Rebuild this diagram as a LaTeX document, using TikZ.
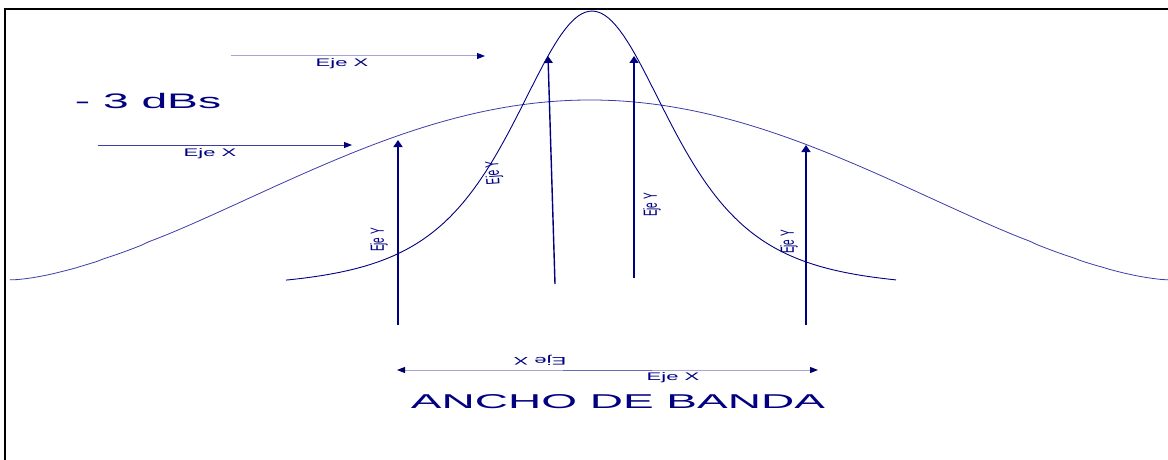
\documentclass[tikz,border=0pt]{standalone}
\usepackage{fontspec}
\setmainfont{Liberation Sans}
\usetikzlibrary{arrows.meta,positioning}
\definecolor{marino}{RGB}{0,0,128}
\definecolor{anchoazul}{RGB}{60,60,170}
\definecolor{lila}{RGB}{165,165,218}

% texto estirado en vertical (eje Y girado)
\newcommand{\ejeytexto}{\scalebox{1}[1.9]{Eje Y}}

\tikzset{
  curvaancha/.style={draw=anchoazul, line width=0.8pt},
  curvaestrecha/.style={draw=marino, line width=0.9pt},
  ejey/.style={draw=marino, line width=1.4pt, -{Triangle[length=7pt,width=9pt]}},
  ejex/.style={draw=#1, line width=1pt, -{Triangle[color=marino,length=8pt,width=6pt]}},
  etiq/.style={text=marino, inner sep=0pt, font=\fontsize{11}{13}\selectfont, xscale=2},
  etiqy/.style={text=marino, inner sep=0pt, font=\fontsize{10}{12}\selectfont, rotate=#1}
}

\begin{document}
\begin{tikzpicture}[x=1pt,y=-1pt]
  \useasboundingbox (0,0) rectangle (1168,460);
  % marco
  \draw[line width=2pt] (5,470) -- (5,9) -- (1180,9);

  % curvas
  \draw[curvaancha] plot[domain=10:1168,samples=160]
    (\x,{280-180*pow(max(0.0001,(1+cos(0.310345*(\x-590)))/2),0.78)});
  \draw[curvaestrecha] plot[domain=286:896,samples=160]
    (\x,{280-269*(1/(1+((\x-592)/145)^2)^2-0.034)/0.966});

  % ejes Y
  \coordinate (y1a) at (398,325);  \coordinate (y1b) at (398,140);
  \coordinate (y2a) at (555,284);  \coordinate (y2b) at (548,56);
  \coordinate (y3a) at (634,278);  \coordinate (y3b) at (634,56);
  \coordinate (y4a) at (806,325);  \coordinate (y4b) at (806,145);
  \draw[ejey] (y1a) -- (y1b);
  \draw[ejey] (y2a) -- (y2b);
  \draw[ejey] (y3a) -- (y3b);
  \draw[ejey] (y4a) -- (y4b);
  \node[etiqy=90] (ey1) at (379,240) {\ejeytexto};
  \node[etiqy=94] (ey2) at (494,173) {\ejeytexto};
  \node[etiqy=90] (ey3) at (652,205) {\ejeytexto};
  \node[etiqy=90] (ey4) at (789,242) {\ejeytexto};

  % ejes X
  \coordinate (x1a) at (231,56);  \coordinate (x1b) at (485,56);
  \coordinate (x2a) at (98,145);  \coordinate (x2b) at (352,145);
  \draw[ejex=lila] (x1a) -- (x1b);
  \draw[ejex=anchoazul] (x2a) -- (x2b);
  \node[etiq] (ex1) at (342,64) {Eje X};
  \node[etiq] (ex2) at (210,154) {Eje X};

  % ancho de banda
  \coordinate (x3a) at (652,370);  \coordinate (x3b) at (397,370);
  \coordinate (x4a) at (563,370);  \coordinate (x4b) at (818,370);
  \begin{scope}[blend mode=multiply]
    \draw[ejex=lila] (x3a) -- (x3b);
    \draw[ejex=lila] (x4a) -- (x4b);
  \end{scope}
  \node[etiq,rotate=180] (ex3) at (540,360) {Eje X};
  \node[etiq] (ex4) at (673,378) {Eje X};

  \node[text=marino, inner sep=0pt, font=\fontsize{21}{24}\selectfont, xscale=2.2]
    (db) at (148,101) {- 3 dBs};
  \node[text=marino, inner sep=0pt, font=\fontsize{20}{24}\selectfont, xscale=2.3]
    (ancho) at (618,402) {ANCHO DE BANDA};
\end{tikzpicture}
\end{document}
